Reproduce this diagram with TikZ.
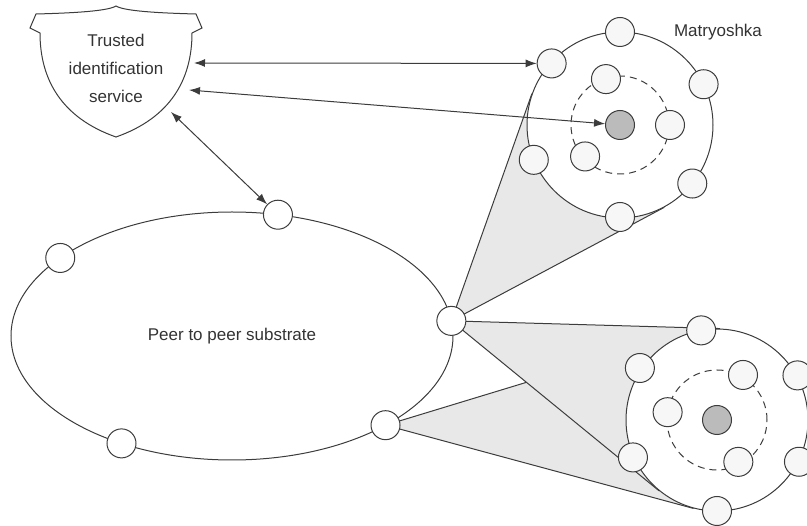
\documentclass[tikz,border=0pt]{standalone}
\usepackage{fontspec}
\setmainfont{Liberation Sans}
\usepackage{tikz}
\usetikzlibrary{arrows.meta,backgrounds,calc}
\definecolor{ink}{HTML}{3C3C3C}
\definecolor{txt}{HTML}{333333}
\definecolor{nodefill}{HTML}{F7F7F7}
\definecolor{corefill}{HTML}{BBBBBB}
\definecolor{conefill}{HTML}{E8E8E8}

\tikzset{
  peer/.style={circle,draw=ink,fill=white,line width=1pt,minimum size=29pt,inner sep=0pt},
  member/.style={peer,fill=nodefill},
  core/.style={peer,fill=corefill},
  shell/.style={circle,draw=ink,fill=white,line width=1pt,inner sep=0pt},
  ring/.style={draw=ink,line width=1pt,dash pattern=on 7pt off 5pt},
  cone/.style={fill=conefill,draw=ink,line width=1pt,line join=round},
  link/.style={draw=ink,line width=1pt,{Latex[length=11pt,width=8pt]}-{Latex[length=11pt,width=8pt]}},
  caption/.style={text=txt,font=\fontsize{17}{28}\selectfont,align=center,inner sep=0pt}
}

\begin{document}
\begin{tikzpicture}[x=1pt,y=1pt]
\useasboundingbox (0,0) rectangle (807,-526);
\clip (0,0) rectangle (807,-526);

% shield
\draw[ink,line width=1pt,fill=white] (116,-6) .. controls (108,-11) and (75,-13) .. (36,-14) -- (30,-28) -- (40,-33) .. controls (40,-80) and (62,-118) .. (116,-137) .. controls (170,-118) and (192,-80) .. (192,-33) -- (202,-28) -- (196,-14) .. controls (157,-13) and (124,-11) .. (116,-6) -- cycle;
\node[caption] (tis) at (116,-68) {Trusted\\identification\\service};
\coordinate (sh1) at (194,-63);
\coordinate (sh2) at (189,-90);
\coordinate (sh3) at (171,-112);

% substrate
\coordinate (sub) at (232,-336);
\draw[ink,line width=1pt] (sub) ellipse [x radius=221, y radius=124];
\node[caption] (subtext) at (sub) {Peer to peer substrate};
\node[peer] (e1) at ($(sub)+(78:221 and 124)$) {};
\node[peer] (e2) at ($(sub)+(141:221 and 124)$) {};
\node[peer] (e3) at ($(sub)+(7:221 and 124)$) {};
\node[peer] (e4) at ($(sub)+(-46:221 and 124)$) {};
\node[peer] (e5) at ($(sub)+(-120:221 and 124)$) {};

% first matryoshka
\node[shell,minimum size=186pt] (m1) at (620,-125) {};
\draw[ring] (m1) circle (49);
\node[core] (m1c) at (m1) {};
\node[member] (m1i107) at ($(m1)+(107:48)$) {};
\node[member] (m1i0) at ($(m1)+(0:50)$) {};
\node[member] (m1i222) at ($(m1)+(222:47)$) {};
\node[member] (m1o90) at ($(m1)+(90:93)$) {};
\node[member] (m1o138) at ($(m1)+(138:92)$) {};
\node[member] (m1o26) at ($(m1)+(26:93)$) {};
\node[member] (m1o202) at ($(m1)+(202:93)$) {};
\node[member] (m1o321) at ($(m1)+(-39:93)$) {};
\node[member] (m1o270) at ($(m1)+(-90:92)$) {};
\node[caption] (mname) at (718,-32) {Matryoshka};

% second matryoshka
\node[shell,minimum size=182pt] (m2) at (717,-420) {};
\draw[ring] (m2) circle (50);
\node[core] (m2c) at (m2) {};
\node[member] (m2i60) at ($(m2)+(60:52)$) {};
\node[member] (m2i171) at ($(m2)+(171:50)$) {};
\node[member] (m2i297) at ($(m2)+(-63:47)$) {};
\node[member] (m2o100) at ($(m2)+(100:91)$) {};
\node[member] (m2o146) at ($(m2)+(146:93)$) {};
\node[member] (m2o204) at ($(m2)+(204:92)$) {};
\node[member] (m2o270) at ($(m2)+(-90:91)$) {};
\node[member] (m2o29) at ($(m2)+(29:92)$) {};
\node[member] (m2o333) at ($(m2)+(-27:92)$) {};

% links to the identification service
\draw[link] (sh1) -- (m1o138);
\draw[link] (sh2) -- (m1c);
\draw[link] (sh3) -- (e1);

% cones
\begin{scope}[on background layer]
\draw[cone] (e3.center) -- (tangent cs:node=m1,point={(e3.center)},solution=1) -- (tangent cs:node=m1,point={(e3.center)},solution=2) -- cycle;
\draw[cone] (e4.center) -- (tangent cs:node=m2,point={(e4.center)},solution=1) -- (tangent cs:node=m2,point={(e4.center)},solution=2) -- cycle;
\draw[cone] (e3.center) -- (tangent cs:node=m2,point={(e3.center)},solution=1) -- (tangent cs:node=m2,point={(e3.center)},solution=2) -- cycle;
\end{scope}
\end{tikzpicture}
\end{document}
